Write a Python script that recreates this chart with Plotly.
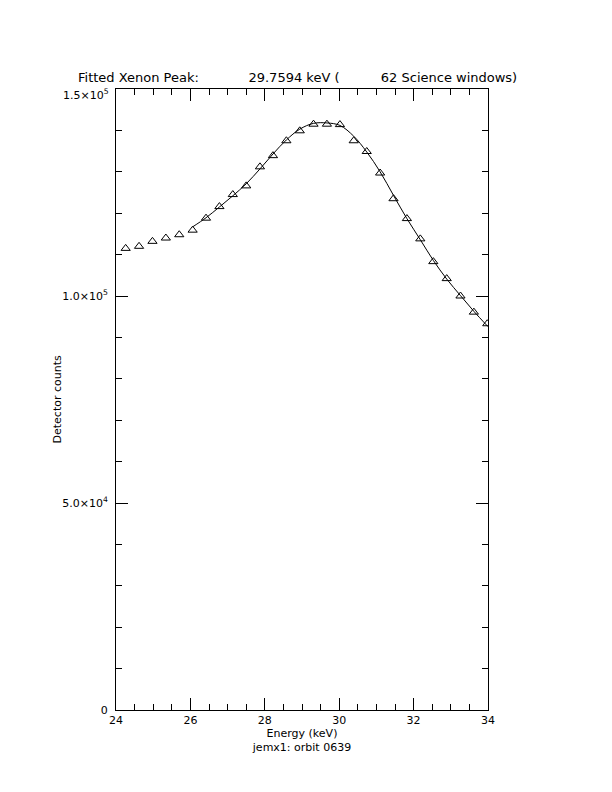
import plotly.graph_objects as go

# measured points (keV, counts)
energy = [24.26, 24.62, 24.98, 25.34, 25.70, 26.06, 26.42, 26.78, 27.14,
          27.50, 27.87, 28.22, 28.58, 28.94, 29.31, 29.67, 30.02, 30.39,
          30.74, 31.10, 31.46, 31.82, 32.18, 32.53, 32.89, 33.26, 33.62, 33.98]
counts = [111500, 112000, 113200, 114000, 114800, 115900, 118800, 121600,
          124500, 126600, 131200, 133900, 137500, 139900, 141500, 141500,
          141400, 137500, 134900, 129700, 123500, 118700, 113800, 108300,
          104200, 100000, 96100, 93300]

# fitted curve
fit_energy = [26.06, 26.42, 26.78, 27.14, 27.50, 27.87, 28.22, 28.58, 28.94,
              29.31, 29.67, 30.02, 30.39, 30.74, 31.10, 31.46, 31.82, 32.18,
              32.53, 32.89, 33.26, 33.62, 34.00]
fit_counts = [116700, 118900, 121500, 124200, 127100, 130700, 134300, 137700,
              140300, 141700, 141800, 141200, 138600, 134800, 130000, 124300,
              118700, 113600, 108600, 104100, 100100, 96300, 92600]

y_tickvals = [0, 50000, 100000, 150000]
y_ticktext = ["0", "5.0\u00d710<sup>4</sup>", "1.0\u00d710<sup>5</sup>", ""]
y_top_label = "1.5\u00d710<sup>5</sup>"

sp = "\u00a0"
title = ("Fitted Xenon Peak:" + sp * 12 + "29.7594 keV (" + sp * 10 +
         "62 Science windows)")

fig = go.Figure()
fig.add_trace(
    go.Scatter(
        x=fit_energy,
        y=fit_counts,
        mode="lines",
        line_shape="spline",
        line=dict(color="black", width=1),
        showlegend=False
    )
)
fig.add_trace(
    go.Scatter(
        x=energy,
        y=counts,
        mode="markers",
        marker=dict(symbol="triangle-up-open", size=8, color="black",
                    line=dict(width=1, color="black")),
        showlegend=False
    )
)

axis_common = dict(
    showline=True,
    linecolor="black",
    linewidth=1,
    mirror="ticks",
    ticks="inside",
    tickcolor="black",
    ticklen=12,
    showgrid=False,
    zeroline=False,
)

# page body adds an 8px offset, so margins are shifted by that amount
fig.update_layout(
    width=612,
    height=792,
    paper_bgcolor="white",
    plot_bgcolor="white",
    margin=dict(l=108, r=132, t=81, b=90),
    font=dict(family="DejaVu Sans", size=11, color="black"),
    title=dict(text=title, xref="container", x=70 / 612, xanchor="left",
               y=1 - 69 / 792, yanchor="middle",
               font=dict(family="DejaVu Sans", size=13, color="black")),
    xaxis=dict(
        range=[24, 34],
        tickmode="linear",
        tick0=24,
        dtick=2,
        tickfont=dict(family="DejaVu Sans", size=11, color="black"),
        minor=dict(tickmode="linear", tick0=24, dtick=0.5, ticks="inside",
                   ticklen=6, tickcolor="black"),
        title=dict(text="Energy (keV)<br>jemx1: orbit 0639",
                   font=dict(family="DejaVu Sans", size=11), standoff=2),
        **axis_common
    ),
    yaxis=dict(
        range=[0, 150000],
        tickmode="array",
        tickvals=y_tickvals,
        ticktext=y_ticktext,
        ticklabelstandoff=5,
        tickfont=dict(family="DejaVu Sans", size=11, color="black"),
        minor=dict(tickmode="linear", tick0=0, dtick=10000, ticks="inside",
                   ticklen=6, tickcolor="black"),
        **axis_common
    ),
)

# top y label sits a little below its tick, as in the original
fig.add_annotation(
    text=y_top_label,
    xref="paper", yref="y",
    x=0, y=y_tickvals[-1],
    xanchor="right", yanchor="middle",
    xshift=-5, yshift=-5,
    showarrow=False,
    font=dict(family="DejaVu Sans", size=11, color="black")
)

fig.add_annotation(
    text="Detector counts",
    xref="paper", yref="paper",
    x=-0.156, y=0.5,
    xanchor="center", yanchor="middle",
    textangle=-90,
    showarrow=False,
    font=dict(family="DejaVu Sans", size=11, color="black")
)

fig.write_html("out.html")
